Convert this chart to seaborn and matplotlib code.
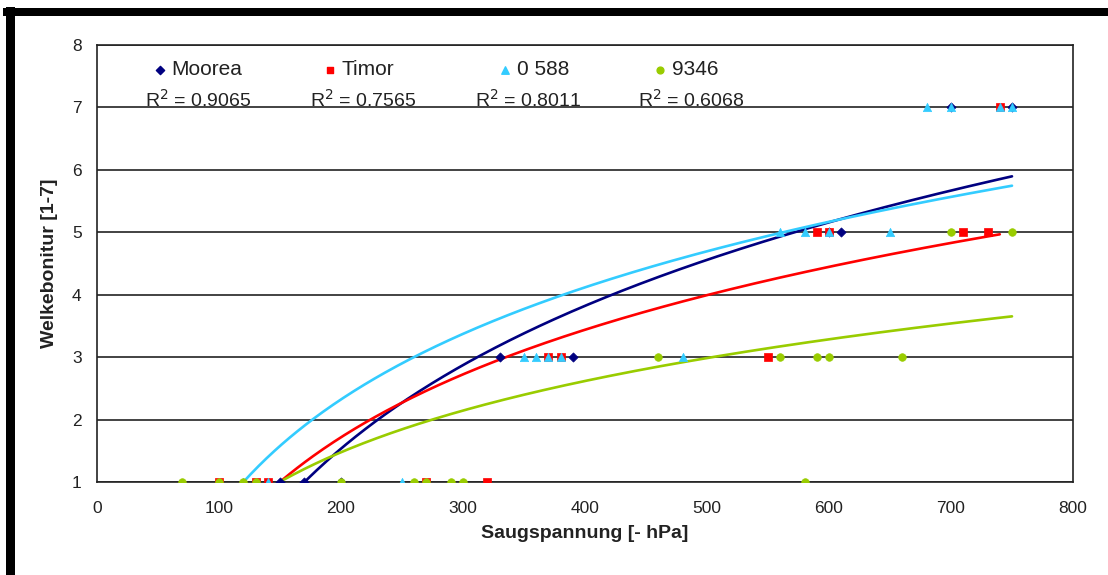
import numpy as np
import pandas as pd
import matplotlib
matplotlib.use("Agg")
import matplotlib.pyplot as plt
from matplotlib.patches import Rectangle
import seaborn as sns

sns.set_theme(style="white")
plt.rcParams['font.family'] = ['Liberation Sans', 'DejaVu Sans']

# ---- data ----
series_names = ["Moorea", "Timor", "0 588", "9346"]
r2_labels = ["0.9065", "0.7565", "0.8011", "0.6068"]

moorea_x = [150, 170, 200, 330, 390, 600, 610, 700, 750]
moorea_y = [1, 1, 1, 3, 3, 5, 5, 7, 7]

timor_x = [100, 130, 140, 270, 320, 370, 380, 550, 590, 600, 710, 730, 740]
timor_y = [1, 1, 1, 1, 1, 3, 3, 3, 5, 5, 5, 5, 7]

s588_x = [120, 140, 250, 350, 360, 370, 380, 480, 560, 580, 600, 650, 680, 700, 740, 750]
s588_y = [1, 1, 1, 3, 3, 3, 3, 3, 5, 5, 5, 5, 7, 7, 7, 7]

s9346_x = [70, 100, 120, 130, 200, 260, 270, 290, 300, 580, 460, 560, 590, 600, 660, 700, 750]
s9346_y = [1, 1, 1, 1, 1, 1, 1, 1, 1, 1, 3, 3, 3, 3, 3, 5, 5]

# logarithmic trend lines  y = a*ln(x) + b
trend_a = [3.30, 2.485, 2.59, 1.647]
trend_b = [-15.95, -11.45, -11.40, -7.25]

x_ticks = [0, 100, 200, 300, 400, 500, 600, 700, 800]
y_ticks = [1, 2, 3, 4, 5, 6, 7, 8]

# ---- styling ----
colors = ["#000080", "#FF0000", "#33CCFF", "#99CC00"]
markers = ["D", "s", "^", "o"]
msizes = [22, 30, 36, 30]

xs = [moorea_x, timor_x, s588_x, s9346_x]
ys = [moorea_y, timor_y, s588_y, s9346_y]

frames = []
for name, x, y in zip(series_names, xs, ys):
    frames.append(pd.DataFrame({"x": x, "y": y, "series": name}))
df = pd.concat(frames, ignore_index=True)

fig = plt.figure(figsize=(11.08, 5.75), dpi=100)
fig.patch.set_facecolor("white")
ax = fig.add_axes([97/1108, 1-482/575, (1073-97)/1108, (482-45)/575])
ax.set_facecolor("white")

# trend lines
trend_rows = []
for name, x, a, b in zip(series_names, xs, trend_a, trend_b):
    tx = np.linspace(min(x), max(x), 300)
    trend_rows.append(pd.DataFrame({"x": tx, "y": a*np.log(tx) + b, "series": name}))
tdf = pd.concat(trend_rows, ignore_index=True)

# scatter points, drawn in series order
for i, name in enumerate(series_names):
    sub = df[df.series == name]
    sns.scatterplot(data=sub, x="x", y="y", color=colors[i], marker=markers[i],
                    s=msizes[i], edgecolor=colors[i], linewidth=0.5, ax=ax,
                    zorder=3 + i, legend=False)

for i, name in enumerate(series_names):
    sub = tdf[tdf.series == name]
    sns.lineplot(data=sub, x="x", y="y", color=colors[i], linewidth=1.9,
                 ax=ax, zorder=2, legend=False, sort=False)

ax.set_xlim(0, 800)
ax.set_ylim(1, 8)
ax.set_xticks(x_ticks)
ax.set_yticks(y_ticks)
ax.set_xticklabels([str(v) for v in x_ticks])
ax.set_yticklabels([str(v) for v in y_ticks])
ax.grid(axis="y", color="#222222", linewidth=1.2)
ax.grid(axis="x", visible=False)
ax.set_axisbelow(True)
for side in ["left", "bottom", "right", "top"]:
    ax.spines[side].set_visible(True)
    ax.spines[side].set_color("#222222")
    ax.spines[side].set_linewidth(1.2)
ax.tick_params(axis="both", direction="out", length=5, width=1.2, color="#222222",
               labelsize=12.5, labelcolor="#222222", pad=6)
ax.tick_params(axis="x", pad=9)

ax.set_xlabel("Saugspannung [- hPa]", fontsize=14, fontweight="bold", color="#222222", labelpad=6)
ax.set_ylabel("Welkebonitur [1-7]", fontsize=14, fontweight="bold", color="#222222", labelpad=10)

# manual legend row and R² row (Excel style)
leg_x = [0.0645, 0.2387, 0.418, 0.577]
r2_x = [0.049, 0.218, 0.387, 0.554]
for i, name in enumerate(series_names):
    ax.scatter([leg_x[i]], [0.943], transform=ax.transAxes, marker=markers[i],
               s=msizes[i]*0.8, color=colors[i], clip_on=False, zorder=10)
    ax.text(leg_x[i] + 0.012, 0.943, name, transform=ax.transAxes, fontsize=15,
            va="center", ha="left", color="#222222")
    ax.text(r2_x[i], 0.859, "R$^2$ = " + r2_labels[i], transform=ax.transAxes,
            fontsize=14, va="baseline", ha="left", color="#222222")

# black frame bars (top and left)
fig.patches.append(Rectangle((3/1108, 1-16/575), 1-3/1108, 8/575, transform=fig.transFigure,
                             facecolor="black", edgecolor="none", zorder=0))
fig.patches.append(Rectangle((6/1108, 0), 9/1108, 1-7/575, transform=fig.transFigure,
                             facecolor="black", edgecolor="none", zorder=0))

fig.savefig("out.png", dpi=100, facecolor="white")
